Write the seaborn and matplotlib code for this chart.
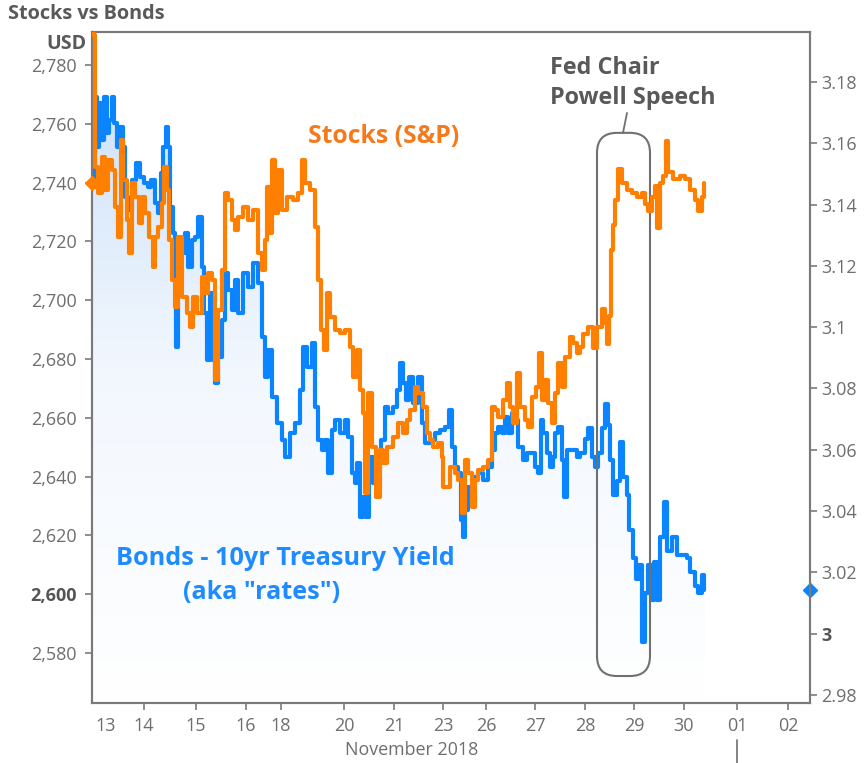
import numpy as np
import pandas as pd
import matplotlib
matplotlib.use("Agg")
import matplotlib.pyplot as plt
import seaborn as sns
from matplotlib.patches import FancyBboxPatch, Polygon
from matplotlib.ticker import FuncFormatter
from matplotlib.colors import LinearSegmentedColormap

# ---------------- data ----------------
# x = position on the session axis (1 unit ~ one trading day)
stocks_x = [0.00, 0.02, 0.06, 0.12, 0.20, 0.26, 0.32, 0.40, 0.46, 0.52, 0.58, 0.62, 0.70, 0.74, 0.80,
            0.86, 0.94, 1.00, 1.06, 1.14, 1.22, 1.26, 1.32, 1.40, 1.44, 1.50, 1.54, 1.60, 1.66, 1.72,
            1.80, 1.90, 1.96, 2.02, 2.10, 2.20, 2.26, 2.32, 2.40, 2.46, 2.52, 2.60, 2.66, 2.72, 2.80,
            2.86, 2.92, 3.02, 3.12, 3.22, 3.32, 3.40, 3.46, 3.50, 3.56, 3.60, 3.66, 3.72, 3.80, 3.90,
            4.02, 4.12, 4.20, 4.26, 4.36, 4.46, 4.52, 4.58, 4.64, 4.70, 4.76, 4.86, 4.96, 5.06, 5.16,
            5.22, 5.30, 5.36, 5.42, 5.46, 5.52, 5.60, 5.68, 5.76, 5.82, 5.90, 6.02, 6.12, 6.22, 6.30,
            6.36, 6.46, 6.52, 6.62, 6.70, 6.76, 6.82, 6.92, 7.00, 7.02, 7.10, 7.16, 7.26, 7.32, 7.40,
            7.46, 7.52, 7.60, 7.66, 7.72, 7.82, 7.92, 8.00, 8.06, 8.12, 8.22, 8.30, 8.36, 8.42, 8.50,
            8.56, 8.66, 8.72, 8.80, 8.88, 8.94, 9.00, 9.06, 9.12, 9.20, 9.26, 9.32, 9.40, 9.46, 9.56,
            9.62, 9.70, 9.76, 9.82, 9.92, 10.02, 10.10, 10.20, 10.26, 10.30, 10.34, 10.38, 10.42, 10.46, 10.52,
            10.60, 10.70, 10.80, 10.90, 11.00, 11.06, 11.12, 11.20, 11.26, 11.30, 11.36, 11.42, 11.48, 11.52, 11.62,
            11.76, 11.86, 11.96, 12.06, 12.12, 12.20, 12.24]
stocks_val = [2792.0, 2790.2, 2745.3, 2736.5, 2748.7, 2737.5, 2747.7, 2744.3, 2731.7, 2721.5, 2754.5, 2740.9, 2727.3, 2716.1, 2739.9,
              2735.1, 2726.3, 2735.1, 2729.7, 2721.5, 2711.3, 2721.5, 2724.9, 2733.1, 2745.3, 2737.5, 2720.5, 2706.9, 2697.7, 2721.5,
              2701.1, 2695.7, 2690.9, 2701.1, 2695.7, 2707.9, 2702.5, 2709.3, 2706.9, 2672.9, 2696.7, 2710.3, 2736.5, 2734.1, 2727.3,
              2723.9, 2728.3, 2731.7, 2727.3, 2730.7, 2716.1, 2710.3, 2720.5, 2738.5, 2722.9, 2747.7, 2729.7, 2744.3, 2730.7, 2735.1,
              2734.1, 2736.5, 2747.7, 2739.9, 2737.5, 2724.9, 2706.9, 2689.9, 2683.1, 2702.5, 2694.3, 2689.9, 2688.9, 2689.9, 2684.1,
              2673.9, 2683.1, 2669.5, 2661.7, 2634.5, 2668.5, 2650.1, 2633.1, 2649.1, 2644.7, 2650.1, 2653.5, 2658.3, 2654.9, 2659.3,
              2662.7, 2670.5, 2668.5, 2663.7, 2654.9, 2652.5, 2650.1, 2651.4, 2646.7, 2636.5, 2636.5, 2643.3, 2641.2, 2638.9, 2627.6,
              2645.7, 2641.2, 2629.7, 2638.9, 2642.3, 2643.3, 2645.7, 2663.7, 2662.7, 2660.3, 2666.1, 2671.8, 2663.7, 2658.3, 2675.2,
              2663.7, 2659.3, 2656.9, 2667.1, 2670.5, 2682.0, 2666.1, 2672.9, 2665.0, 2658.3, 2668.5, 2678.7, 2670.5, 2680.7, 2687.5,
              2685.5, 2682.1, 2684.1, 2688.6, 2691.0, 2683.8, 2691.0, 2696.9, 2692.2, 2685.0, 2694.5, 2717.2, 2725.6, 2733.9, 2744.7,
              2739.9, 2737.5, 2736.3, 2735.1, 2736.3, 2732.7, 2730.3, 2735.1, 2738.7, 2724.4, 2739.9, 2742.3, 2754.2, 2743.5, 2741.1,
              2742.3, 2741.1, 2737.5, 2733.9, 2730.3, 2735.1, 2739.9]

bonds_x = [0.00, 0.06, 0.10, 0.14, 0.20, 0.24, 0.30, 0.34, 0.40, 0.44, 0.50, 0.56, 0.62, 0.66, 0.72,
           0.80, 0.88, 0.96, 1.04, 1.12, 1.18, 1.26, 1.32, 1.38, 1.42, 1.48, 1.52, 1.56, 1.62, 1.66,
           1.68, 1.72, 1.80, 1.86, 1.92, 2.00, 2.06, 2.12, 2.20, 2.24, 2.30, 2.36, 2.42, 2.46, 2.52,
           2.60, 2.66, 2.72, 2.80, 2.86, 2.92, 3.02, 3.12, 3.22, 3.32, 3.40, 3.46, 3.52, 3.60, 3.70,
           3.80, 3.86, 3.96, 4.06, 4.16, 4.22, 4.30, 4.40, 4.46, 4.52, 4.60, 4.66, 4.72, 4.80, 4.86,
           4.96, 5.06, 5.12, 5.20, 5.26, 5.30, 5.36, 5.42, 5.48, 5.54, 5.62, 5.68, 5.78, 5.86, 5.92,
           6.02, 6.10, 6.16, 6.22, 6.28, 6.34, 6.42, 6.52, 6.60, 6.66, 6.76, 6.86, 6.96, 7.06, 7.14,
           7.20, 7.26, 7.32, 7.38, 7.42, 7.46, 7.52, 7.62, 7.72, 7.82, 7.92, 8.00, 8.06, 8.12, 8.20,
           8.26, 8.32, 8.40, 8.48, 8.52, 8.62, 8.70, 8.80, 8.86, 8.92, 8.98, 9.02, 9.10, 9.16, 9.22,
           9.26, 9.32, 9.40, 9.44, 9.50, 9.60, 9.70, 9.76, 9.86, 9.92, 10.00, 10.06, 10.12, 10.20, 10.26,
           10.32, 10.36, 10.42, 10.50, 10.56, 10.62, 10.70, 10.74, 10.82, 10.88, 10.94, 11.00, 11.06, 11.12, 11.20,
           11.24, 11.30, 11.36, 11.44, 11.50, 11.60, 11.70, 11.80, 11.90, 11.96, 12.06, 12.12, 12.20, 12.24]
bonds_val = [3.1458, 3.1751, 3.1588, 3.1732, 3.1611, 3.1751, 3.1634, 3.1676, 3.1751, 3.1666, 3.1588, 3.1653, 3.1588, 3.1425, 3.1383,
             3.1481, 3.1536, 3.1490, 3.1471, 3.1458, 3.1481, 3.1406, 3.1373, 3.1503, 3.1588, 3.1653, 3.1588, 3.1392, 3.1308, 3.1155,
             3.0936, 3.1243, 3.1243, 3.1308, 3.1197, 3.1285, 3.1295, 3.1360, 3.1197, 3.1047, 3.0894, 3.1112, 3.0894, 3.0819, 3.0903,
             3.1024, 3.1177, 3.1122, 3.1057, 3.1155, 3.1047, 3.1177, 3.1132, 3.1210, 3.1145, 3.0969, 3.0838, 3.0926, 3.0773, 3.0688,
             3.0633, 3.0577, 3.0656, 3.0688, 3.0796, 3.0936, 3.0871, 3.0949, 3.0740, 3.0633, 3.0600, 3.0633, 3.0525, 3.0666, 3.0698,
             3.0656, 3.0698, 3.0643, 3.0525, 3.0493, 3.0558, 3.0382, 3.0447, 3.0382, 3.0577, 3.0493, 3.0577, 3.0633, 3.0740, 3.0721,
             3.0740, 3.0796, 3.0884, 3.0819, 3.0763, 3.0838, 3.0754, 3.0838, 3.0688, 3.0623, 3.0633, 3.0656, 3.0666, 3.0675, 3.0731,
             3.0610, 3.0545, 3.0525, 3.0372, 3.0317, 3.0405, 3.0480, 3.0512, 3.0525, 3.0503, 3.0545, 3.0600, 3.0656, 3.0675, 3.0656,
             3.0708, 3.0656, 3.0721, 3.0698, 3.0610, 3.0568, 3.0591, 3.0591, 3.0545, 3.0525, 3.0698, 3.0656, 3.0591, 3.0545, 3.0577,
             3.0656, 3.0675, 3.0568, 3.0447, 3.0600, 3.0600, 3.0577, 3.0590, 3.0636, 3.0670, 3.0578, 3.0544, 3.0590, 3.0670, 3.0750,
             3.0681, 3.0567, 3.0453, 3.0498, 3.0624, 3.0510, 3.0453, 3.0338, 3.0247, 3.0178, 3.0224, 2.9972, 3.0132, 3.0224, 3.0109,
             3.0235, 3.0109, 3.0315, 3.0430, 3.0269, 3.0315, 3.0258, 3.0258, 3.0247, 3.0201, 3.0155, 3.0132, 3.0192, 3.0144]

day_ticks = [0.28, 1.04, 2.08, 3.08, 3.78, 5.04, 6.04, 7.02, 7.88, 8.86, 9.86, 10.84, 11.84, 12.90, 13.92]
day_labels = ["13", "14", "15", "16", "18", "20", "21", "23", "26", "27", "28", "29", "30", "01", "02"]
usd_ticks = [2580, 2600, 2620, 2640, 2660, 2680, 2700, 2720, 2740, 2760, 2780]
yield_ticks = [2.98, 3.00, 3.02, 3.04, 3.06, 3.08, 3.10, 3.12, 3.14, 3.16, 3.18]

stocks = pd.DataFrame({"x": stocks_x, "value": stocks_val})
bonds = pd.DataFrame({"x": bonds_x, "value": bonds_val})

# ---------------- style ----------------
sns.set_theme(style="white")
plt.rcParams["font.family"] = ["Open Sans", "DejaVu Sans"]

ORANGE = "#ff8000"
BLUE = "#0a84ff"
GRAY = "#6e6e6e"
DARK = "#595959"

fig = plt.figure(figsize=(8.64, 7.63), dpi=100)
ax = fig.add_axes([92 / 864, 1 - 703 / 763, (810 - 92) / 864, (703 - 32) / 763])
ax2 = ax.twinx()

XMIN, XMAX = 0.0, 14.36
YL0, YL1 = 2563.0, 2791.2
YR0, YR1 = 2.9774, 3.1963
ax.set_xlim(XMIN, XMAX)
ax.set_ylim(YL0, YL1)
ax2.set_ylim(YR0, YR1)

# gradient fill under the bond line
grad = np.linspace(0, 1, 256).reshape(-1, 1)
cmap = LinearSegmentedColormap.from_list("g", ["#ffffff", "#f2f7fe", "#c6def8"])
im = ax2.imshow(grad, aspect="auto", cmap=cmap, origin="lower",
                extent=[XMIN, XMAX, YR0, YR1], zorder=1, interpolation="bilinear")
px, py = [], []
for i in range(len(bonds_x)):
    if i > 0:
        px.append(bonds_x[i]); py.append(bonds_val[i - 1])
    px.append(bonds_x[i]); py.append(bonds_val[i])
px.append(bonds_x[-1] + 0.02); py.append(bonds_val[-1])
poly_xy = [(bonds_x[0], YR0)] + list(zip(px, py)) + [(px[-1], YR0)]
clip = Polygon(poly_xy, closed=True, transform=ax2.transData, facecolor="none", edgecolor="none")
ax2.add_patch(clip)
im.set_clip_path(clip)

sns.lineplot(data=bonds, x="x", y="value", ax=ax2, color=BLUE, linewidth=3.0,
             drawstyle="steps-post", estimator=None, sort=False, zorder=3)
sns.lineplot(data=stocks, x="x", y="value", ax=ax, color=ORANGE, linewidth=3.0,
             drawstyle="steps-post", estimator=None, sort=False, zorder=4)
ax.set_zorder(ax2.get_zorder() + 1)
ax.patch.set_visible(False)
ax2.set_xlim(XMIN, XMAX)

# last-value markers
ax.plot([XMIN], [stocks_val[-1]], marker="D", color=ORANGE, markersize=7, clip_on=False, zorder=6)
ax2.plot([XMAX], [bonds_val[-1]], marker="D", color=BLUE, markersize=7, clip_on=False, zorder=6)

for a in (ax, ax2):
    a.set_xlabel("")
    a.set_ylabel("")
    for s in a.spines.values():
        s.set_color("#7a7a7a")
        s.set_linewidth(1.5)

ax.set_xticks(day_ticks)
ax.set_xticklabels(day_labels)
ax.set_yticks(usd_ticks)
ax.yaxis.set_major_formatter(FuncFormatter(lambda v, p: f"{v:,.0f}"))
ax2.set_yticks(yield_ticks)
ax2.yaxis.set_major_formatter(FuncFormatter(lambda v, p: f"{v:.2f}".rstrip("0").rstrip(".")))

TICK_FS = 13
ax.tick_params(axis="both", which="major", direction="out", length=5, width=1.2,
               color="#7a7a7a", labelcolor=GRAY, labelsize=TICK_FS, bottom=True, left=True)
ax.tick_params(axis="x", pad=5)
ax.tick_params(axis="y", pad=6)
ax2.tick_params(axis="y", direction="out", length=5, width=1.2, color="#7a7a7a",
                labelcolor=GRAY, labelsize=TICK_FS, right=True, pad=3)
ax.xaxis.get_major_ticks()[0].tick1line.set_visible(False)
for lbl in ax.get_yticklabels():
    if lbl.get_text() == "2,600":
        lbl.set_fontweight("bold"); lbl.set_color("#555555")
for lbl in ax2.get_yticklabels():
    if lbl.get_text() == "3":
        lbl.set_fontweight("bold"); lbl.set_color("#555555")

# Fed chair box
bx0, bx1 = 10.10, 11.16
by0, by1 = 2.9862, 3.1634
ax_w_px = ax.get_position().width * fig.get_figwidth() * fig.dpi
ax_h_px = ax.get_position().height * fig.get_figheight() * fig.dpi
x_per_px = (XMAX - XMIN) / ax_w_px
y_per_px = (YR1 - YR0) / ax_h_px
box = FancyBboxPatch((bx0, by0), bx1 - bx0, by1 - by0,
                     boxstyle=f"round,pad=0,rounding_size={20 * x_per_px}",
                     mutation_aspect=y_per_px / x_per_px,
                     facecolor="none", edgecolor="#707070", linewidth=1.5, zorder=7)
ax2.add_patch(box)
ax2.plot([10.70, 10.62], [3.1699, 3.1634], color="#707070", linewidth=1.3, zorder=7)

# annotations
ax2.text(9.16, 3.1846, "Fed Chair", color=DARK, fontsize=16.8, fontweight="bold", ha="left", va="center")
ax2.text(9.16, 3.1748, "Powell Speech", color=DARK, fontsize=16.8, fontweight="bold", ha="left", va="center")
ax.text(5.84, 2755.5, "Stocks (S&P)", color="#f57a1c", fontsize=17.8, fontweight="bold", ha="center", va="center", zorder=8)
ax.text(3.86, 2612.3, "Bonds - 10yr Treasury Yield", color="#1e8cff", fontsize=18.2, fontweight="bold", ha="center", va="center", zorder=8)
ax.text(3.39, 2600.7, "(aka \"rates\")", color="#1e8cff", fontsize=18.2, fontweight="bold", ha="center", va="center", zorder=8)

fig.text(8 / 864, 1 - 14 / 763, "Stocks vs Bonds", color=DARK, fontsize=14.3, fontweight="bold", ha="left", va="center")
fig.text(86 / 864, 1 - 44 / 763, "USD", color=DARK, fontsize=14, fontweight="bold", ha="right", va="center")
fig.text(412 / 864, 1 - 750 / 763, "November 2018", color=GRAY, fontsize=12.9, ha="center", va="center")

# month divider below the axis at the start of December
ax.plot([12.90, 12.90], [-0.055, -0.09], transform=ax.get_xaxis_transform(), color="#7a7a7a",
        linewidth=1.3, clip_on=False)

fig.savefig("out.png", dpi=100, facecolor="white")
